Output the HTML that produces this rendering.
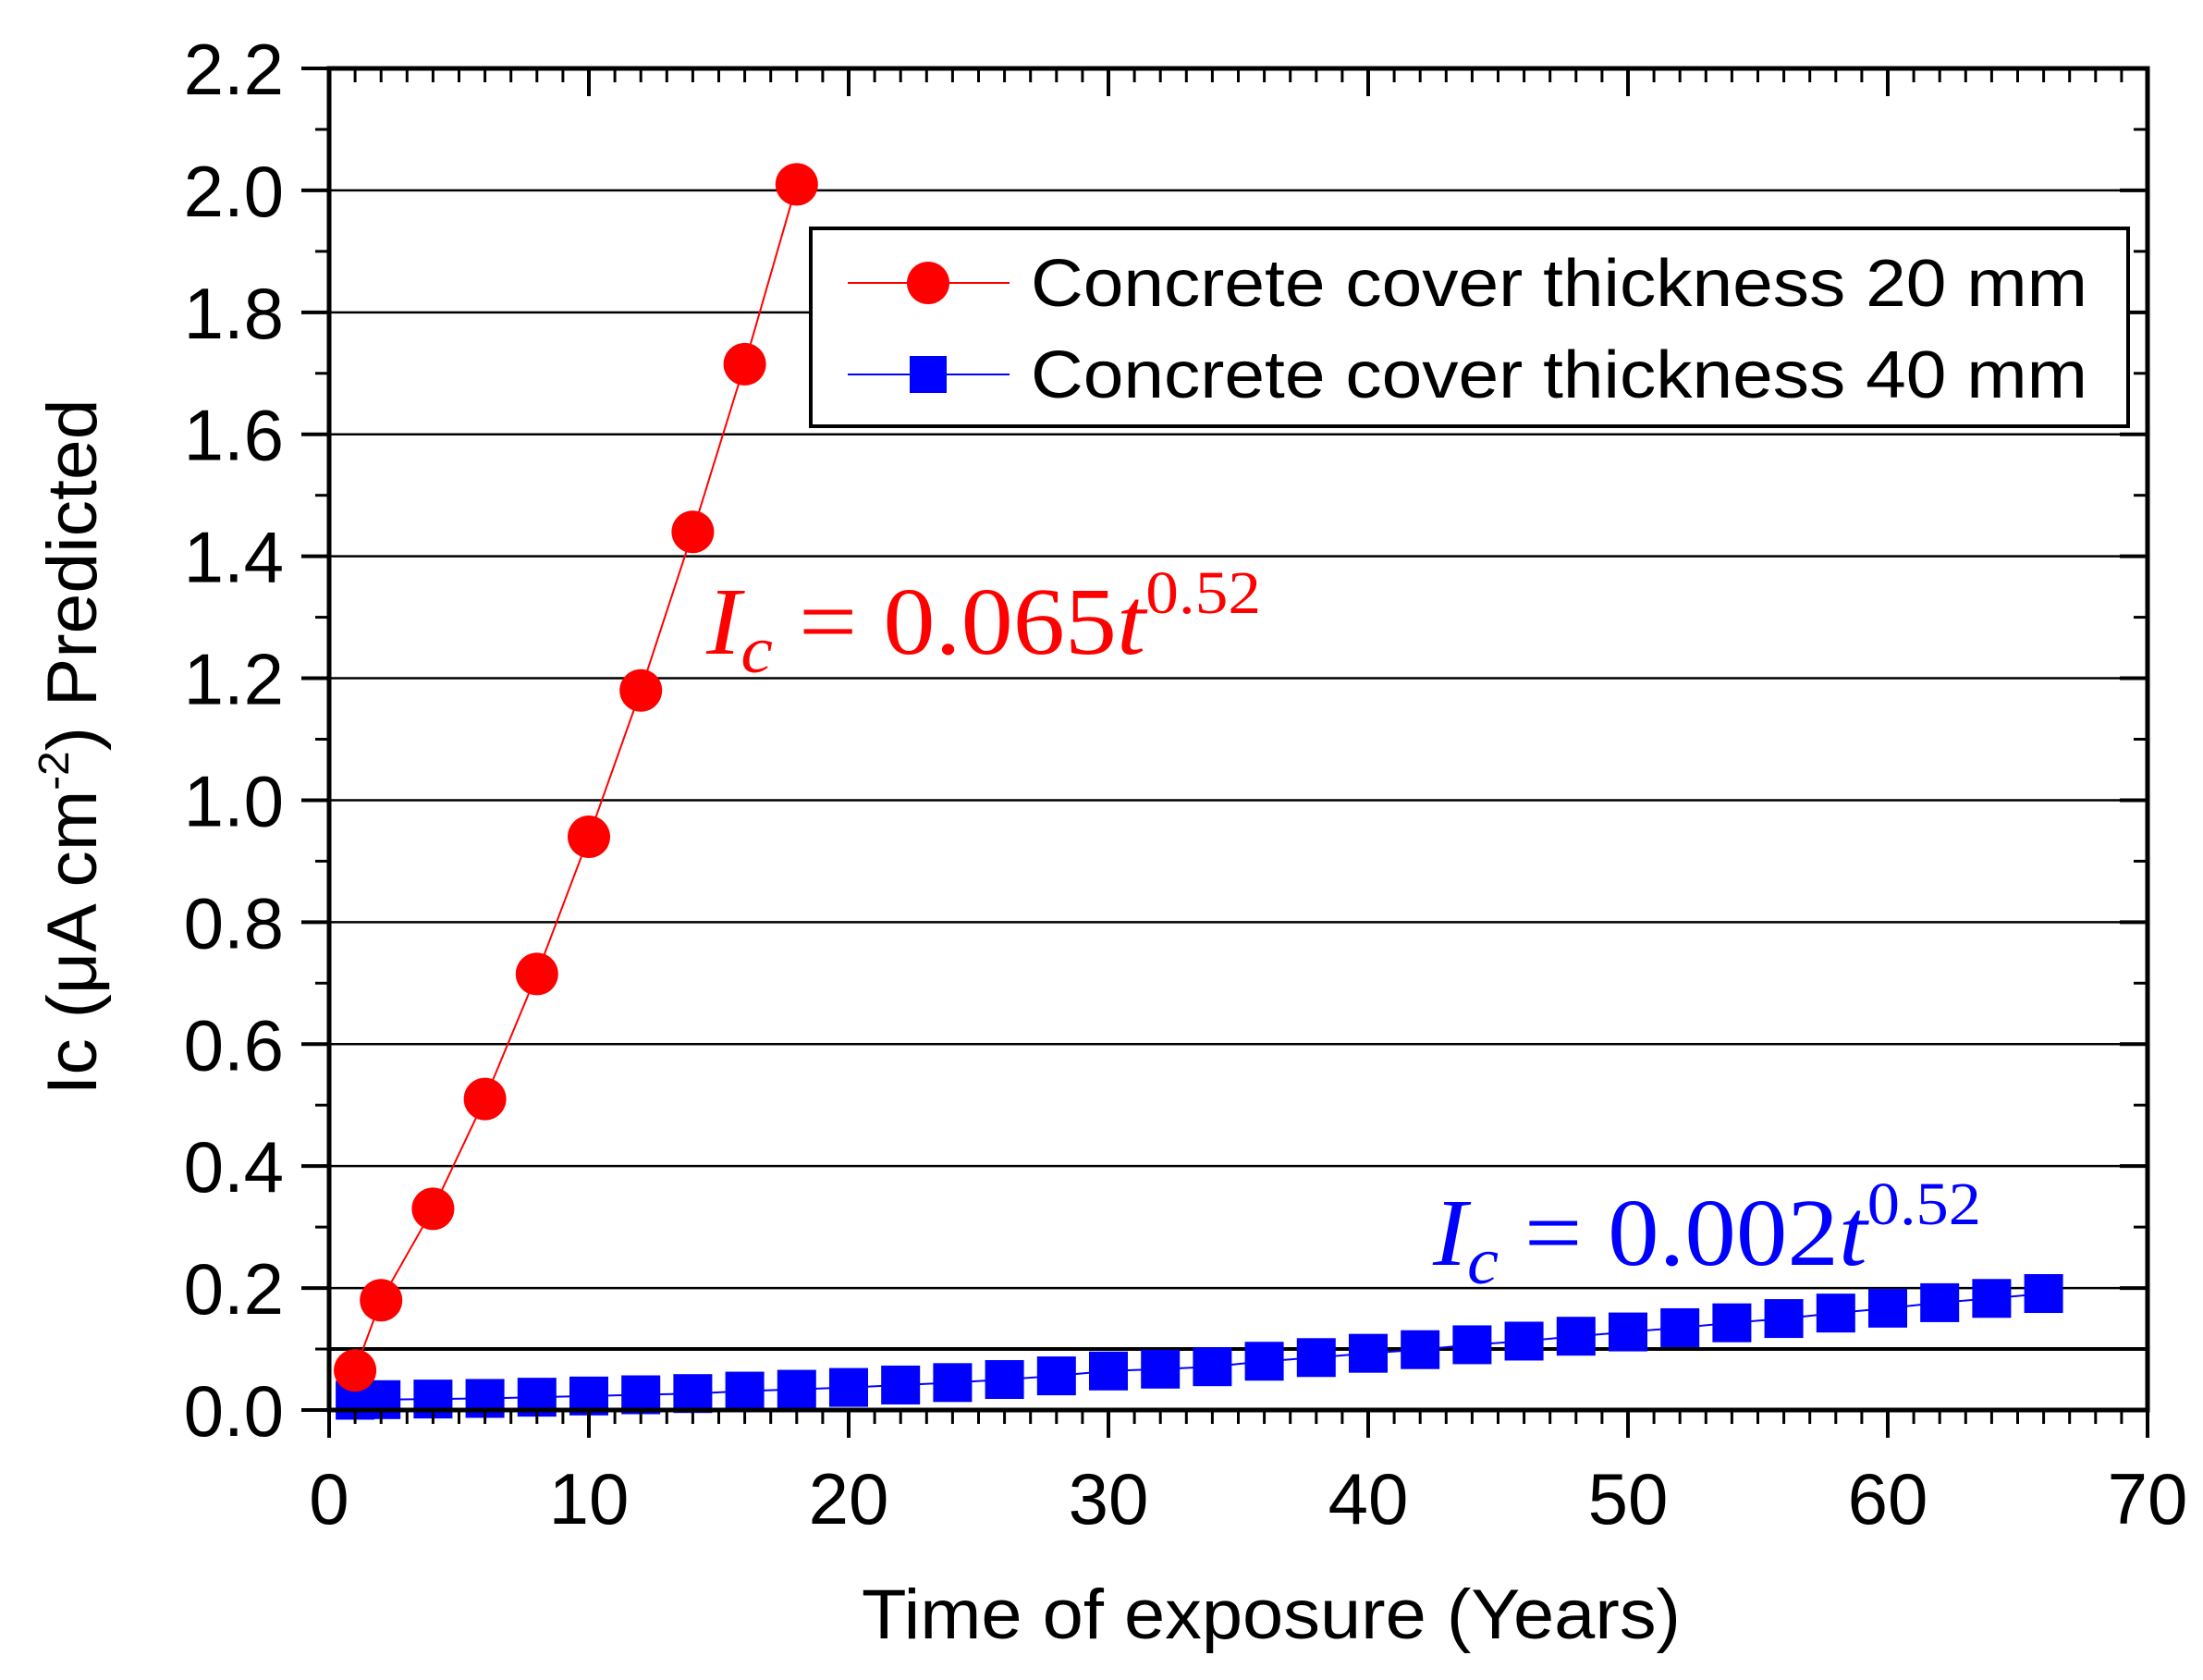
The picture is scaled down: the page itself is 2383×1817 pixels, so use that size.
<!DOCTYPE html>
<html><head><meta charset="utf-8"><style>
html,body{margin:0;padding:0;background:#fff;}
svg{display:block;}
</style></head><body>
<svg id="chart" width="2383" height="1817" viewBox="0 0 2383 1817" xmlns="http://www.w3.org/2000/svg" font-family="Liberation Sans, sans-serif">
<rect x="0" y="0" width="2383" height="1817" fill="#fff"/>
<g id="grid"></g>
<g id="series"></g>
<g id="axes"></g>
<text x="1375" y="1772" font-size="76" text-anchor="middle" textLength="886" lengthAdjust="spacingAndGlyphs">Time of exposure (Years)</text>
<text transform="translate(104,808) rotate(-90)" font-size="76" text-anchor="middle" textLength="753" lengthAdjust="spacingAndGlyphs">Ic (μA cm<tspan font-size="46" dy="-30">-2</tspan><tspan dy="30">) Predicted</tspan></text>
<g>
<rect x="877" y="247" width="1425" height="214" fill="#fff" stroke="#000" stroke-width="4"/>
<g>
<line x1="917" y1="306" x2="1092" y2="306" stroke="#ff0000" stroke-width="2"/>
<circle cx="1004" cy="306" r="23" fill="#ff0000"/>
<text x="1115" y="331" font-size="72" textLength="1143" lengthAdjust="spacingAndGlyphs">Concrete cover thickness 20 mm</text>
</g>
<g>
<line x1="917" y1="405" x2="1092" y2="405" stroke="#0000ff" stroke-width="2"/>
<rect x="984" y="385" width="40" height="40" fill="#0000ff"/>
<text x="1115" y="430" font-size="72" textLength="1143" lengthAdjust="spacingAndGlyphs">Concrete cover thickness 40 mm</text>
</g>
</g>
<text x="764" y="707" fill="#ff0000" style="font-family:'Liberation Serif',serif" font-size="104" textLength="600" lengthAdjust="spacingAndGlyphs"><tspan font-style="italic">I</tspan><tspan font-style="italic" font-size="72" dy="20">c</tspan><tspan dy="-20"> = 0.065</tspan><tspan font-style="italic">t</tspan><tspan font-size="66" dy="-44">0.52</tspan></text>
<text x="1550" y="1368" fill="#0000ff" style="font-family:'Liberation Serif',serif" font-size="104" textLength="593" lengthAdjust="spacingAndGlyphs"><tspan font-style="italic">I</tspan><tspan font-style="italic" font-size="72" dy="20">c</tspan><tspan dy="-20"> = 0.002</tspan><tspan font-style="italic">t</tspan><tspan font-size="66" dy="-44">0.52</tspan></text>
</svg>
<script>
const redT = [1,2,4,6,8,10,12,14,16,18];
const redVals = [0.065,0.18,0.33,0.51,0.715,0.94,1.18,1.44,1.715,2.01];
const blueT = [1,2,4,6,8,10,12,14,16,18,20,22,24,26,28,30,32,34,36,38,40,42,44,46,48,50,52,54,56,58,60,62,64,66];
const blueVals = [0.016,0.017,0.018,0.019,0.021,0.023,0.025,0.027,0.031,0.034,0.037,0.041,0.045,0.050,0.056,0.064,0.067,0.071,0.080,0.086,0.093,0.099,0.107,0.113,0.121,0.128,0.135,0.143,0.150,0.159,0.167,0.176,0.183,0.191];
const xTicks = [0,10,20,30,40,50,60,70];
const yTicks = ["0.0","0.2","0.4","0.6","0.8","1.0","1.2","1.4","1.6","1.8","2.0","2.2"];

const L=356,R=2323,T=74,B=1525;
const X=v=>L+(v/70)*(R-L);
const Y=v=>B-(v/2.2)*(B-T);
const NS="http://www.w3.org/2000/svg";
function mk(tag,parent,attrs){const e=document.createElementNS(NS,tag);for(const k in attrs)e.setAttribute(k,attrs[k]);parent.appendChild(e);return e;}
const grid=document.getElementById('grid'),series=document.getElementById('series'),axes=document.getElementById('axes');

yTicks.forEach(t=>{const v=parseFloat(t);if(v<=0||v>=2.2)return;
 const g=mk('line',grid,{x1:L,x2:R,y1:Y(v),y2:Y(v),stroke:'#000','stroke-width':2.5});
 
 });
const g01=mk('line',grid,{x1:L,x2:R,y1:Y(0.1),y2:Y(0.1),stroke:'#000','stroke-width':4});



let pts=redT.map((t,i)=>X(t)+','+Y(redVals[i])).join(' ');
const rl=mk('polyline',series,{points:pts,fill:'none',stroke:'#ff0000','stroke-width':2});


pts=blueT.map((t,i)=>X(t)+','+Y(blueVals[i])).join(' ');
const bl=mk('polyline',series,{points:pts,fill:'none',stroke:'#0000ff','stroke-width':2});


blueT.forEach((t,i)=>{const s=mk('rect',series,{x:X(t)-21,y:Y(blueVals[i])-21,width:42,height:42,fill:'#0000ff'});
 
 });
redT.forEach((t,i)=>{const c=mk('circle',series,{cx:X(t),cy:Y(redVals[i]),r:23,fill:'#ff0000'});
 
 });

const fr=mk('rect',axes,{x:L,y:T,width:R-L,height:B-T,fill:'none',stroke:'#000','stroke-width':5});


for(let v=0;v<=70;v++){const maj=v%10===0,len=maj?30:15,x=X(v);
 mk('line',axes,{x1:x,x2:x,y1:B,y2:B+len,stroke:'#000','stroke-width':maj?4:3});
 mk('line',axes,{x1:x,x2:x,y1:T,y2:T+len,stroke:'#000','stroke-width':maj?4:3});}
xTicks.forEach(v=>{const t=mk('text',axes,{x:X(v),y:1648,'font-size':78,'text-anchor':'middle'});t.textContent=v;
 
 });
for(let k=0;k<=22;k++){const v=k/10,maj=k%2===0,len=maj?30:15,y=Y(v);
 mk('line',axes,{x1:L-len,x2:L,y1:y,y2:y,stroke:'#000','stroke-width':maj?4:3});
 mk('line',axes,{x1:R-len,x2:R,y1:y,y2:y,stroke:'#000','stroke-width':maj?4:3});}
yTicks.forEach(s=>{const t=mk('text',axes,{x:307,y:Y(parseFloat(s))+28,'font-size':78,'text-anchor':'end'});t.textContent=s;
 
 });
</script>
</body></html>
